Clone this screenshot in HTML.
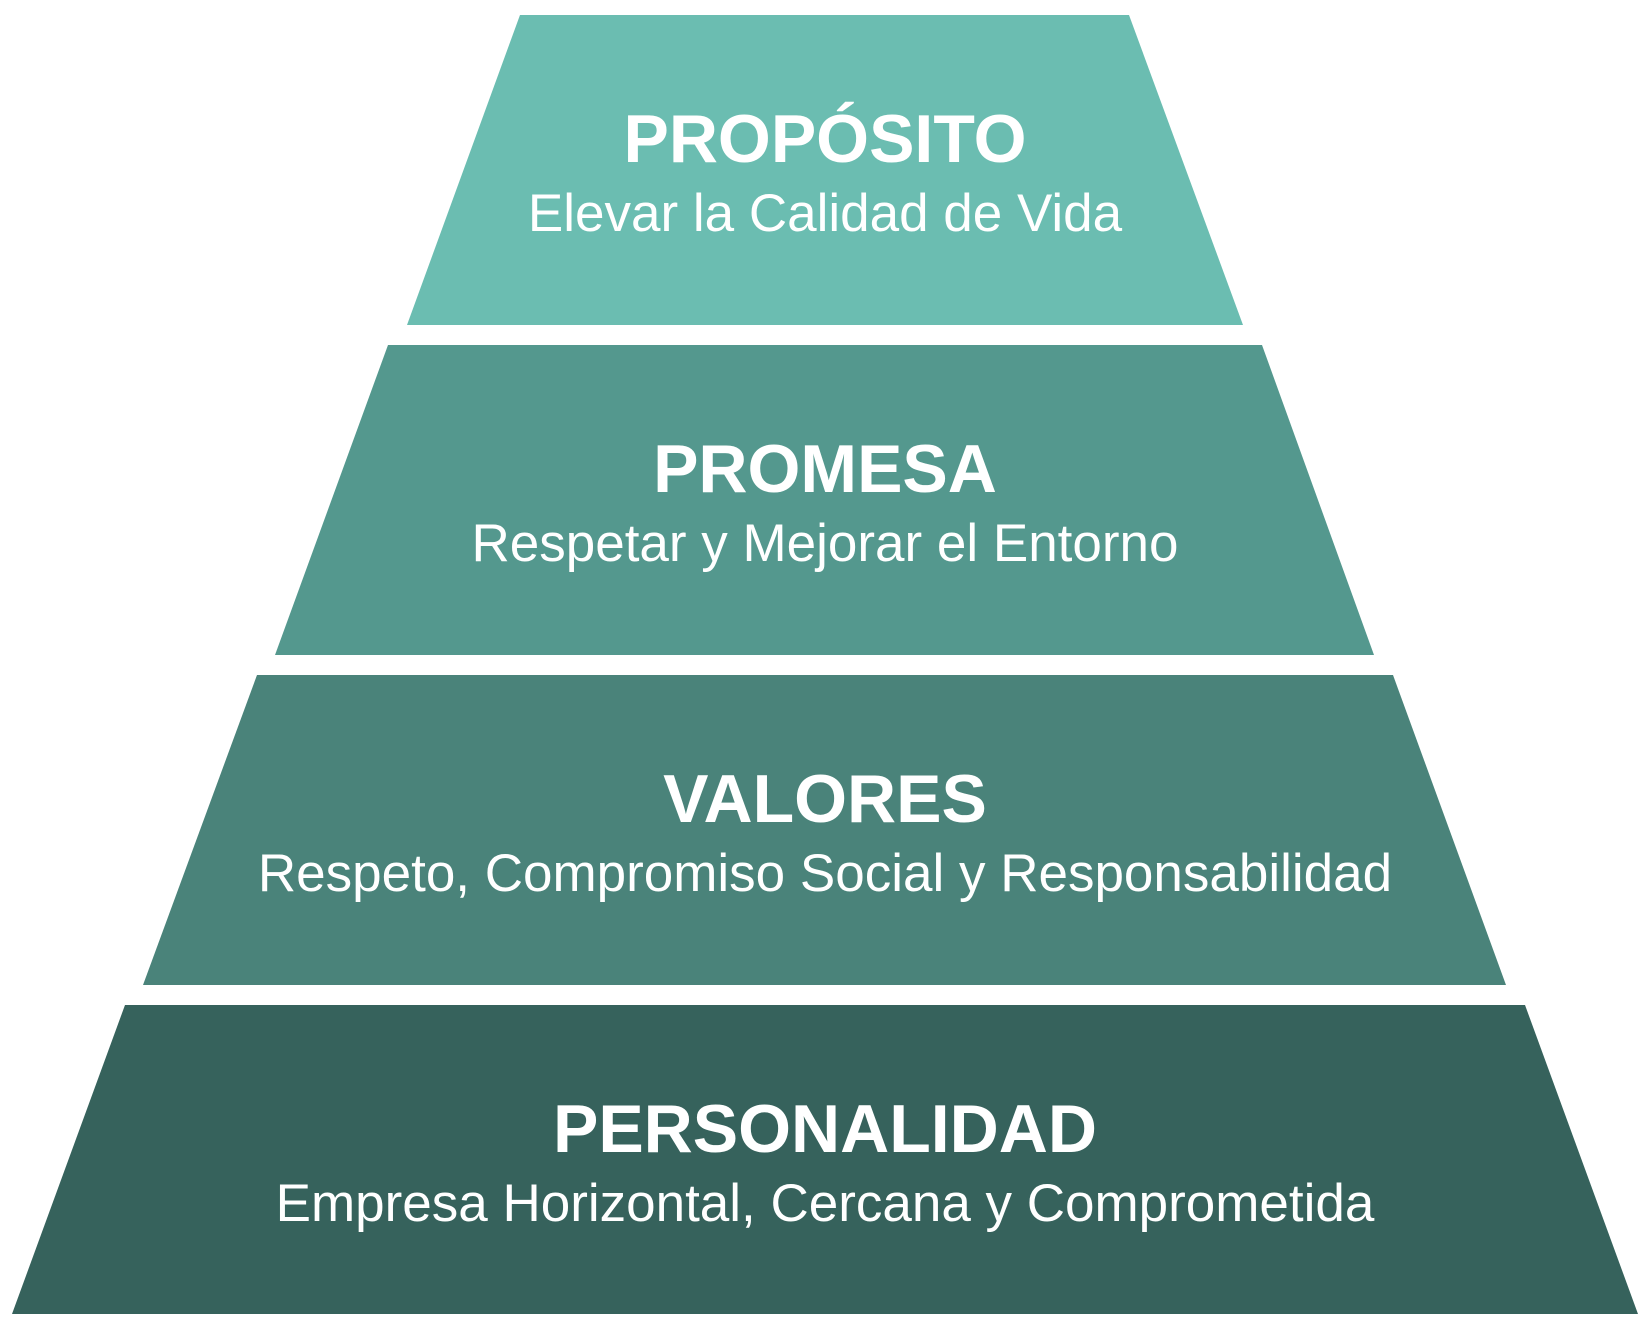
<!DOCTYPE html>
<html><head><meta charset="utf-8"><style>
html,body{margin:0;padding:0;background:#fff;}
svg{display:block;}
text{font-family:"Liberation Sans",sans-serif;fill:#fff;text-anchor:middle;}
.t{font-weight:bold;font-size:68px;}
.s{font-size:53px;}
</style></head><body>
<svg width="1650" height="1330" viewBox="0 0 1650 1330">
<polygon points="520,15 1129,15 1243,325 407,325" fill="#6bbdb1"/>
<polygon points="388,345 1262,345 1374,655 275,655" fill="#54988e"/>
<polygon points="257,675 1393,675 1506,985 143,985" fill="#4a837a"/>
<polygon points="125,1005 1525,1005 1638,1314 12,1314" fill="#36625c"/>
<text class="t" x="825" y="162">PROPÓSITO</text>
<text class="s" x="825" y="231">Elevar la Calidad de Vida</text>
<text class="t" x="825" y="492">PROMESA</text>
<text class="s" x="825" y="561">Respetar y Mejorar el Entorno</text>
<text class="t" x="825" y="822">VALORES</text>
<text class="s" x="825" y="891">Respeto, Compromiso Social y Responsabilidad</text>
<text class="t" x="825" y="1152">PERSONALIDAD</text>
<text class="s" x="825" y="1221">Empresa Horizontal, Cercana y Comprometida</text>
</svg>
</body></html>
